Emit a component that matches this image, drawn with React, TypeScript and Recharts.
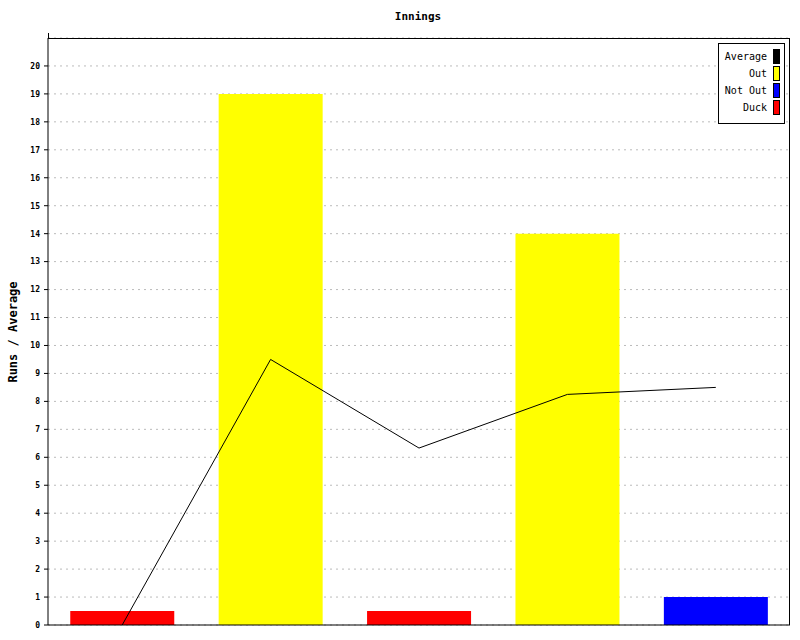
import { ComposedChart, Bar, Line, XAxis, YAxis, CartesianGrid } from 'recharts'

const innings = ['1', '2', '3', '4', '5']
const duck = [0.5, 0, 0.5, 0, 0]
const out = [0, 19, 0, 14, 0]
const notOut = [0, 0, 0, 0, 1]
const average = [0, 9.5, 6.33, 8.25, 8.5]
const yTicks = [0, 1, 2, 3, 4, 5, 6, 7, 8, 9, 10, 11, 12, 13, 14, 15, 16, 17, 18, 19, 20]

const legendItems = [
  { name: 'Average', color: '#000000' },
  { name: 'Out', color: '#ffff00' },
  { name: 'Not Out', color: '#0000ff' },
  { name: 'Duck', color: '#ff0000' },
]

const data = innings.map((inn, i) => ({
  inn,
  duck: duck[i],
  out: out[i],
  notOut: notOut[i],
  average: average[i],
}))

const font = '"DejaVu Sans Mono", monospace'

function LegendBox() {
  return (
    <div
      style={{
        position: 'absolute',
        left: 718,
        top: 43,
        width: 67,
        height: 81,
        border: '1px solid #000',
        background: '#fff',
        fontFamily: font,
        fontSize: 10,
        boxSizing: 'border-box',
        paddingTop: 4,
      }}
    >
      {legendItems.map((it) => (
        <div key={it.name} style={{ display: 'flex', justifyContent: 'flex-end', alignItems: 'center', height: 17, paddingRight: 4 }}>
          <span style={{ marginRight: 6 }}>{it.name}</span>
          <span style={{ display: 'inline-block', width: 7, height: 15, background: it.color, border: '1px solid #000', boxSizing: 'border-box' }} />
        </div>
      ))}
    </div>
  )
}

export default function App() {
  return (
    <div style={{ position: 'absolute', left: 0, top: 0, width: 800, height: 640, background: '#fff' }}>
      <div style={{ position: 'absolute', top: 10, width: 836, textAlign: 'center', fontFamily: font, fontSize: 11, fontWeight: 'bold' }}>
        Innings
      </div>
      <div
        style={{
          position: 'absolute',
          left: 13,
          top: 332,
          transform: 'translate(-50%, -50%) rotate(-90deg)',
          fontFamily: font,
          fontSize: 12,
          fontWeight: 'bold',
          whiteSpace: 'nowrap',
        }}
      >
        Runs / Average
      </div>
      <ComposedChart
        width={800}
        height={640}
        data={data}
        margin={{ top: 38, right: 10, left: 0, bottom: 14 }}
        barCategoryGap="15%"
      >
        <CartesianGrid vertical={false} stroke="#bbbbbb" strokeDasharray="2 4" horizontalPoints={undefined} />
        <XAxis dataKey="inn" tick={false} tickLine={false} height={1} axisLine={{ stroke: '#000' }} />
        <YAxis
          width={48}
          domain={[0, 21]}
          ticks={yTicks}
          interval={0}
          tickSize={4}
          tickMargin={4}
          axisLine={{ stroke: '#000' }}
          tickLine={{ stroke: '#000' }}
          tick={{ fill: '#000', fontSize: 8, fontWeight: 'bold', fontFamily: font }}
        />
        <Bar dataKey="duck" stackId="a" fill="#ff0000" isAnimationActive={false} />
        <Bar dataKey="out" stackId="a" fill="#ffff00" isAnimationActive={false} />
        <Bar dataKey="notOut" stackId="a" fill="#0000ff" isAnimationActive={false} />
        <Line type="linear" dataKey="average" stroke="#000" strokeWidth={1} dot={false} isAnimationActive={false} />
      </ComposedChart>
      {/* plot frame: top and right edges, plus the left axis stub above the frame */}
      <div style={{ position: 'absolute', left: 48, top: 38, width: 742, height: 587, borderTop: '1px solid #000', borderRight: '1px solid #000', boxSizing: 'border-box', pointerEvents: 'none' }} />
      <div style={{ position: 'absolute', left: 48, top: 33, width: 1, height: 6, background: '#000' }} />
      <LegendBox />
    </div>
  )
}
